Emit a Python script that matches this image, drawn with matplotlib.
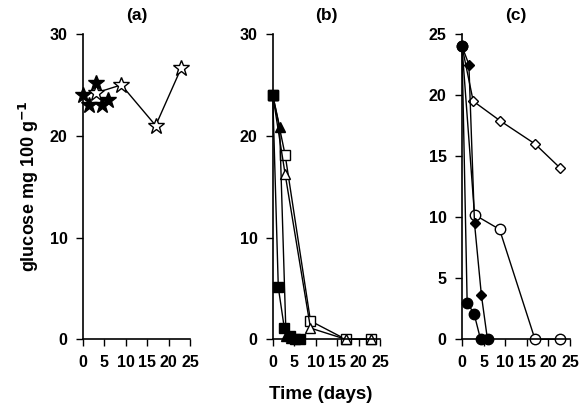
import matplotlib
matplotlib.use("Agg")
import matplotlib.pyplot as plt

plt.rcParams["font.family"] = ["Liberation Sans", "DejaVu Sans"]
plt.rcParams["font.weight"] = "bold"

# panel (a)
a_filled_t = [0, 1.5, 3, 4.5, 6]
a_filled_y = [24.0, 23.0, 25.2, 23.0, 23.5]
a_open_t = [3, 9, 17, 23]
a_open_y = [24.2, 25.0, 21.0, 26.7]

# panel (b)
b_sq_filled_t = [0, 1.3, 2.7, 4, 5.3, 6.3]
b_sq_filled_y = [24.0, 5.1, 1.1, 0.3, 0.0, 0.0]
b_tri_filled_t = [0, 1.6, 3.1, 4.2]
b_tri_filled_y = [24.0, 20.9, 0.3, 0.1]
b_sq_open_t = [0, 2.9, 8.8, 17, 23]
b_sq_open_y = [24.0, 18.1, 1.8, 0.0, 0.0]
b_tri_open_t = [0, 2.9, 8.8, 17, 23]
b_tri_open_y = [24.0, 16.2, 1.1, 0.0, 0.0]

# panel (c)
c_dia_open_t = [0, 2.6, 8.8, 16.9, 22.8]
c_dia_open_y = [24.0, 19.5, 17.9, 16.0, 14.0]
c_dia_filled_t = [0, 1.6, 2.9, 4.5, 5.9]
c_dia_filled_y = [24.0, 22.5, 9.5, 3.6, 0.0]
c_circ_open_t = [0, 2.9, 8.7, 16.9, 22.8]
c_circ_open_y = [24.0, 10.2, 9.0, 0.0, 0.0]
c_circ_filled_t = [0, 1.2, 2.8, 4.3, 6.1]
c_circ_filled_y = [24.0, 3.0, 2.1, 0.0, 0.0]

fig = plt.figure(figsize=(5.85, 4.13), dpi=100)
ax_a = fig.add_axes([0.1414, 0.1785, 0.1834, 0.7392])
ax_b = fig.add_axes([0.4662, 0.1785, 0.1834, 0.7392])
ax_c = fig.add_axes([0.7897, 0.1785, 0.1846, 0.7392])

line_kw = dict(color="black", linewidth=1.0, clip_on=False)

ax_a.plot(a_open_t, a_open_y, marker="*", markersize=12, markerfacecolor="white",
          markeredgecolor="black", **line_kw)
ax_a.plot(a_filled_t, a_filled_y, linestyle="none", marker="*", markersize=12,
          markerfacecolor="black", markeredgecolor="black", clip_on=False)

ax_b.plot(b_sq_open_t, b_sq_open_y, marker="s", markersize=7, markerfacecolor="white",
          markeredgecolor="black", **line_kw)
ax_b.plot(b_tri_open_t, b_tri_open_y, marker="^", markersize=7, markerfacecolor="white",
          markeredgecolor="black", **line_kw)
ax_b.plot(b_tri_filled_t, b_tri_filled_y, marker="^", markersize=7, markerfacecolor="black",
          markeredgecolor="black", **line_kw)
ax_b.plot(b_sq_filled_t, b_sq_filled_y, marker="s", markersize=7, markerfacecolor="black",
          markeredgecolor="black", **line_kw)

ax_c.plot(c_dia_open_t, c_dia_open_y, marker="D", markersize=5.5, markerfacecolor="white",
          markeredgecolor="black", **line_kw)
ax_c.plot(c_circ_open_t, c_circ_open_y, marker="o", markersize=7.5, markerfacecolor="white",
          markeredgecolor="black", **line_kw)
ax_c.plot(c_dia_filled_t, c_dia_filled_y, marker="D", markersize=5.5, markerfacecolor="black",
          markeredgecolor="black", **line_kw)
ax_c.plot(c_circ_filled_t, c_circ_filled_y, marker="o", markersize=7.5, markerfacecolor="black",
          markeredgecolor="black", **line_kw)

for ax, title, ymax, yticks in [
    (ax_a, "(a)", 30, [0, 10, 20, 30]),
    (ax_b, "(b)", 30, [0, 10, 20, 30]),
    (ax_c, "(c)", 25, [0, 5, 10, 15, 20, 25]),
]:
    ax.set_xlim(0, 25)
    ax.set_ylim(0, ymax)
    ax.set_xticks([0, 5, 10, 15, 20, 25])
    ax.set_yticks(yticks)
    ax.spines["top"].set_visible(False)
    ax.spines["right"].set_visible(False)
    ax.spines["left"].set_linewidth(1.2)
    ax.spines["bottom"].set_linewidth(1.2)
    ax.tick_params(direction="out", length=5, width=1.0, labelsize=11.5, pad=6)
    for lab in ax.get_xticklabels() + ax.get_yticklabels():
        lab.set_fontweight("bold")
    ax.set_title(title, fontsize=12.5, fontweight="bold", pad=10)

ax_a.set_ylabel("glucose mg 100 g$^{\\mathbf{-1}}$", fontsize=13, fontweight="bold", labelpad=6)
fig.text(0.549, 0.045, "Time (days)", ha="center", va="center", fontsize=13.5, fontweight="bold")

fig.savefig("out.png", dpi=100)
